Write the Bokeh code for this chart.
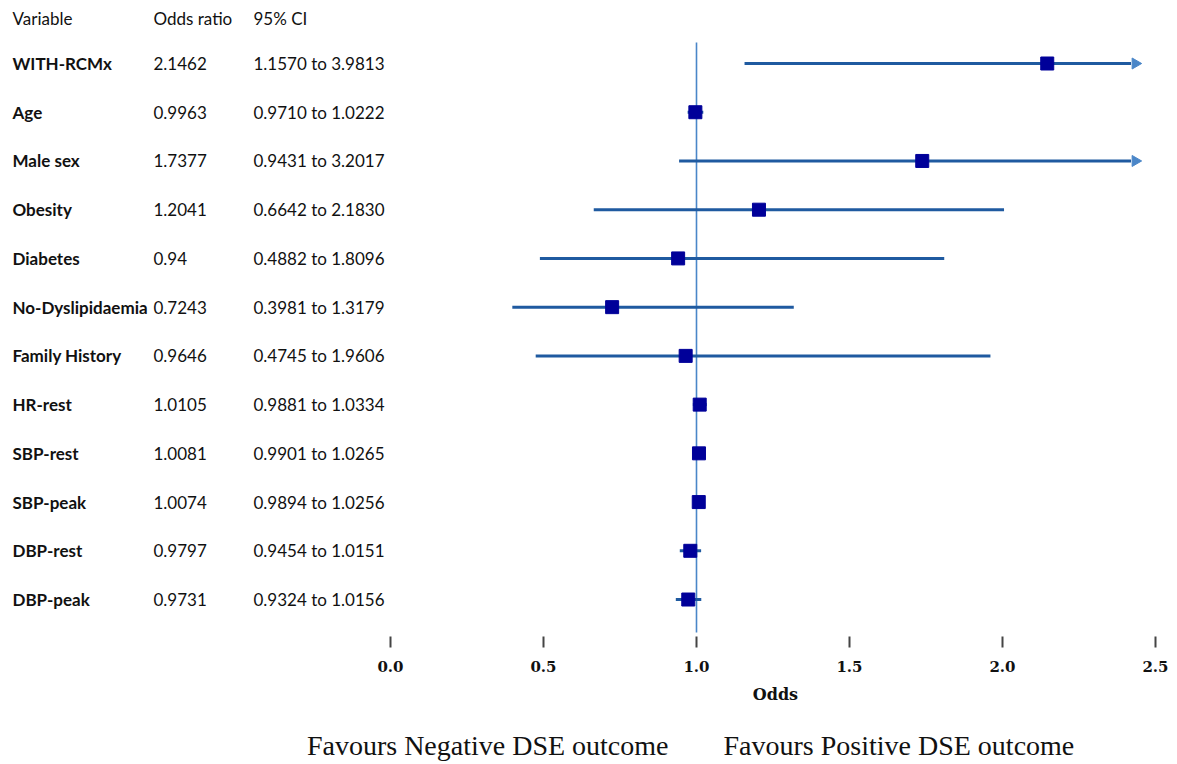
import math
from bokeh.plotting import figure
from bokeh.layouts import column
from bokeh.models import ColumnDataSource, Range1d, LinearAxis, FixedTicker, PrintfTickFormatter
from bokeh.core.properties import value
from bokeh.embed import file_html
from bokeh.resources import INLINE

# ---- data ----
variables = ["WITH-RCMx", "Age", "Male sex", "Obesity", "Diabetes", "No-Dyslipidaemia",
             "Family History", "HR-rest", "SBP-rest", "SBP-peak", "DBP-rest", "DBP-peak"]
odds_text = ["2.1462", "0.9963", "1.7377", "1.2041", "0.94", "0.7243",
             "0.9646", "1.0105", "1.0081", "1.0074", "0.9797", "0.9731"]
ci_text = ["1.1570 to 3.9813", "0.9710 to 1.0222", "0.9431 to 3.2017", "0.6642 to 2.1830",
           "0.4882 to 1.8096", "0.3981 to 1.3179", "0.4745 to 1.9606", "0.9881 to 1.0334",
           "0.9901 to 1.0265", "0.9894 to 1.0256", "0.9454 to 1.0151", "0.9324 to 1.0156"]
# plotted values (as drawn in the chart)
odds = [2.1462, 0.9963, 1.7377, 1.2041, 0.94, 0.7243, 0.9646, 1.0105, 1.0081, 1.0074, 0.9797, 0.9731]
ci_lo = [1.1570, 0.9710, 0.9431, 0.6642, 0.4882, 0.3981, 0.4745, 0.9881, 0.9901, 0.9894, 0.9454, 0.9324]
ci_hi = [3.9813, 1.0222, 3.2017, 2.0050, 1.8096, 1.3179, 1.9606, 1.0334, 1.0265, 1.0256, 1.0151, 1.0156]
headers = ["Variable", "Odds ratio", "95% CI"]
x_ticks = [0.0, 0.5, 1.0, 1.5, 2.0, 2.5]
x_title = "Odds"
favours = ["Favours Negative DSE outcome", "Favours Positive DSE outcome"]

CLIP = 2.42
rows = list(range(len(variables)))
hi_draw = [min(h, CLIP) for h in ci_hi]
src = ColumnDataSource(dict(
    row=rows, var=variables, odds=odds, lo=ci_lo, hi=hi_draw,
    odds_txt=odds_text, ci_txt=ci_text,
))
arrow_rows = [r for r, h in zip(rows, ci_hi) if h > CLIP]
arrow_src = ColumnDataSource(dict(row=arrow_rows, x=[CLIP + 0.014] * len(arrow_rows)))

W, H = 1175, 763
PX = 306.0           # pixels per odds unit
X0 = -390.0 / PX     # data value at the left edge
ROW_PX = 48.73
FRAME_H = 636
TOP_H = 680
Y_TOP = -63.0 / ROW_PX
Y_BOT = (FRAME_H - 63.0) / ROW_PX

xr = Range1d(X0, X0 + W / PX)
p = figure(width=W, height=TOP_H, output_backend="svg", toolbar_location=None,
           x_range=xr, y_range=Range1d(Y_BOT, Y_TOP),
           min_border_left=0, min_border_right=0, min_border_top=0,
           min_border_bottom=TOP_H - FRAME_H,
           x_axis_location=None, y_axis_location=None)
p.outline_line_color = None
p.xgrid.visible = False
p.ygrid.visible = False
p.background_fill_color = "white"
p.border_fill_color = "white"

# reference line at 1
p.segment(x0=1.0, x1=1.0, y0=-0.431, y1=11.676, line_color="#4a86c8", line_width=1.6)

# confidence intervals
p.segment(x0="lo", x1="hi", y0="row", y1="row", source=src, line_color="#1f5aa0", line_width=3)
p.scatter(x="x", y="row", source=arrow_src, marker="triangle", size=11, angle=-math.pi / 2,
          fill_color="#4a86c8", line_color="#4a86c8")
# point estimates
p.scatter(x="odds", y="row", source=src, marker="square", size=13,
          fill_color="#000099", line_color="#000099")

# table text
tfont = value("Lato")
fs = "17px"
c1, c2, c3 = (12 - 390) / PX, (153 - 390) / PX, (253 - 390) / PX
p.text(x=c1, y="row", text="var", source=src, text_font=tfont, text_font_size=fs,
       text_font_style="bold", text_baseline="middle", text_color="#111111")
p.text(x=c2, y="row", text="odds_txt", source=src, text_font=tfont, text_font_size=fs,
       text_baseline="middle", text_color="#111111")
p.text(x=c3, y="row", text="ci_txt", source=src, text_font=tfont, text_font_size=fs,
       text_baseline="middle", text_color="#111111")
p.text(x=[c1, c2, c3], y=[(18 - 63) / ROW_PX] * 3, text=headers, text_font=tfont,
       text_font_size=fs, text_baseline="middle", text_color="#111111")

# x axis
ax = LinearAxis(ticker=FixedTicker(ticks=x_ticks), formatter=PrintfTickFormatter(format="%.1f"))
ax.axis_line_color = None
ax.minor_tick_line_color = None
ax.major_tick_in = 0
ax.major_tick_out = 11
ax.major_tick_line_width = 2
ax.major_tick_line_color = "#444444"
ax.major_label_standoff = 13
ax.major_label_text_font = "DejaVu Serif"
ax.major_label_text_font_style = "bold"
ax.major_label_text_font_size = "15px"
ax.major_label_text_color = "#111111"
p.add_layout(ax, "below")

# bottom strip: axis title and "favours" captions
BH = H - TOP_H
p2 = figure(width=W, height=BH, output_backend="svg", toolbar_location=None,
            x_range=xr, y_range=Range1d(BH, 0),
            min_border_left=0, min_border_right=0, min_border_top=0, min_border_bottom=0,
            x_axis_location=None, y_axis_location=None)
p2.outline_line_color = None
p2.xgrid.visible = False
p2.ygrid.visible = False
p2.text(x=[1.258], y=[694 - TOP_H], text=[x_title], text_font=value("DejaVu Serif"),
        text_font_style="bold", text_font_size="16px", text_align="center",
        text_baseline="middle", text_color="#111111")
p2.text(x=[(668 - 390) / PX], y=[745 - TOP_H], text=[favours[0]], text_font=value("Liberation Serif"),
        text_font_size="28px", text_align="right", text_baseline="middle", text_color="#111111")
p2.text(x=[(723 - 390) / PX], y=[745 - TOP_H], text=[favours[1]], text_font=value("Liberation Serif"),
        text_font_size="28px", text_align="left", text_baseline="middle", text_color="#111111")

layout = column(p, p2, spacing=0)
open("out.html", "w").write(file_html(layout, INLINE))
